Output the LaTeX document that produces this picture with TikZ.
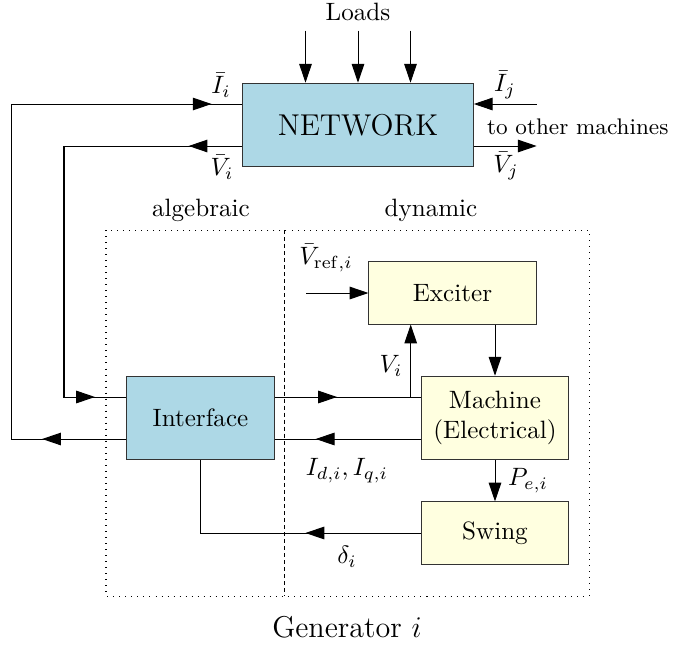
\documentclass[tikz,border=0pt]{standalone}
\usetikzlibrary{calc,arrows.meta,decorations.markings}
\definecolor{netblue}{RGB}{173,216,230}
\definecolor{genyellow}{RGB}{255,255,224}

\begin{document}
\begin{tikzpicture}[x=0.014cm,y=-0.014cm,
  blk/.style={draw=black!80,align=center,inner sep=0pt},
  lbl/.style={inner sep=1pt},
  sig/.style={-{Triangle[length=7.5pt,width=5pt]}},
  tip/.style={postaction={decorate},decoration={markings,
    mark=at position #1 with {\arrow{Triangle[length=7.5pt,width=5pt]}}}},
  tips/.style 2 args={postaction={decorate},decoration={markings,
    mark=at position #1 with {\arrow{Triangle[length=7.5pt,width=5pt]}},
    mark=at position #2 with {\arrow{Triangle[length=7.5pt,width=5pt]}}}}]
  \useasboundingbox (0,0) rectangle (673,646);
  % regions
  \draw[dotted] (106,230) rectangle (589,596);
  \draw[dash pattern=on 1.6pt off 1.2pt] (284.5,230) -- (284.5,596);
  \node[lbl] (alg) at (201,210) {algebraic};
  \node[lbl] (dyn) at (431,210) {dynamic};
  \node[lbl] (gen) at (347,627) {\large Generator $i$};
  % blocks
  \node[blk,fill=netblue,minimum width=3.23cm,minimum height=1.17cm,
    font=\large] (net) at (358,125) {NETWORK};
  \node[blk,fill=netblue,minimum width=2.06cm,minimum height=1.17cm]
    (ifc) at (200.5,418) {Interface};
  \node[blk,fill=genyellow,minimum width=2.34cm,minimum height=0.87cm]
    (exc) at (452.5,293) {Exciter};
  \node[blk,fill=genyellow,minimum width=2.06cm,minimum height=1.17cm]
    (mach) at (495,418) {Machine\\(Electrical)};
  \node[blk,fill=genyellow,minimum width=2.06cm,minimum height=0.87cm]
    (swing) at (495,533) {Swing};
  % loads
  \node[lbl] (loads) at (358,12) {Loads};
  \foreach \dx/\n in {-52.5/1,0/2,52.5/3} {
    \coordinate (ld\n) at ($(net.north)+(\dx,-52)$);
    \draw[sig] (ld\n) -- (ld\n |- net.north);
  }
  % ports
  \coordinate (netI) at ($(net.west)+(0,-21)$);
  \coordinate (netV) at ($(net.west)+(0,21)$);
  \coordinate (ifcV) at ($(ifc.west)+(0,-21)$);
  \coordinate (ifcI) at ($(ifc.west)+(0,21)$);
  \coordinate (machV) at ($(mach.west)+(0,-21)$);
  \coordinate (machI) at ($(mach.west)+(0,21)$);
  \coordinate (ij) at (536.7,104);
  \coordinate (vj) at (536.7,146);
  \coordinate (vtap) at (410.7,397);
  \coordinate (vref) at (306,293);
  % network side
  \draw[sig] (ij) -- (ij -| net.east);
  \draw[sig] (vj -| net.east) -- (vj);
  \draw[tips={0.124}{0.955}] (ifcI) -| (11.7,104) -- (netI);
  \draw[tips={0.109}{0.936}] (netV) -| (64,397) -- (ifcV);
  \node[lbl] (lIi) at (221,85) {$\bar{I}_i$};
  \node[lbl] (lVi) at (222,167) {$\bar{V}_i$};
  \node[lbl] (lIj) at (505,85) {$\bar{I}_j$};
  \node[lbl] (lVj) at (506,166) {$\bar{V}_j$};
  \node[lbl,anchor=west,font=\small] (other) at (484,127) {to other machines};
  % generator side
  \draw[tip=0.427] (ifcV -| ifc.east) -- (machV);
  \draw[tip=0.719] (machI) -- (ifcI -| ifc.east);
  \draw[sig] (vtap) -- (vtap |- exc.south);
  \draw[sig] (vref) -- (exc.west);
  \draw[sig] (mach.north |- exc.south) -- (mach.north);
  \draw[sig] (mach.south) -- (swing.north);
  \draw[tip=0.394] (swing.west) -| (ifc.south);
  \node[lbl] (lVref) at (326,258) {$\bar{V}_{\mathrm{ref},i}$};
  \node[lbl] (lVt) at (391,366) {$V_i$};
  \node[lbl] (lIdq) at (347,471) {$I_{d,i}, I_{q,i}$};
  \node[lbl] (lPe) at (528,481) {$P_{e,i}$};
  \node[lbl] (ldelta) at (347,557) {$\delta_i$};
\end{tikzpicture}
\end{document}
